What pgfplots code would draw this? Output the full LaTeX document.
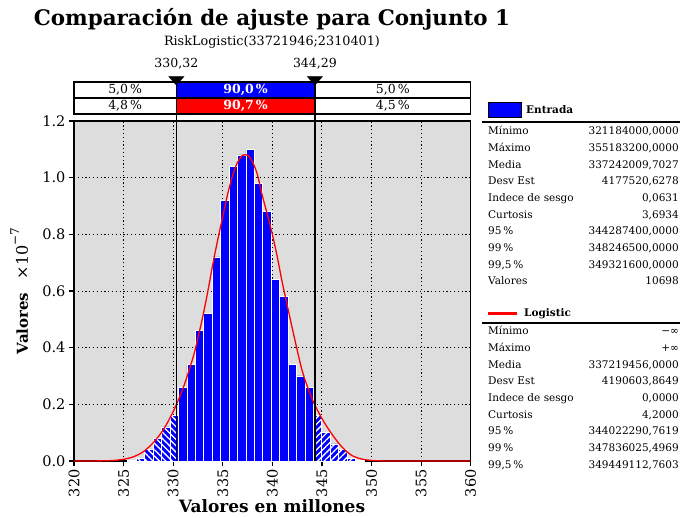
\documentclass[border=0pt]{standalone}
\usepackage{fontspec}
\setmainfont{DejaVu Serif}
\usepackage{pgfplots}
\pgfplotsset{compat=1.18}
\usetikzlibrary{patterns.meta}
\definecolor{bgray}{RGB}{221,221,221}
\newcommand{\fs}[1]{\fontsize{#1}{#1}\selectfont}
\newcommand{\statrow}[3]{%
  \node[anchor=base west, inner sep=0] at (414,#1) {\fs{10.5}#2};
  \node[anchor=base east, inner sep=0] at (605,#1) {\fs{10.5}#3};}

\begin{document}
\begin{tikzpicture}[x=1pt,y=1pt]
\useasboundingbox (-74,-57) rectangle (606,461);
\begin{axis}[
  at={(0,0)}, anchor=south west,
  scale only axis, width=396.7pt, height=340pt,
  xmin=320, xmax=360, ymin=0, ymax=1.2,
  clip=false,
  axis background/.style={fill=bgray},
  xtick={320,325,330,335,340,345,350,355,360},
  ytick={0,0.2,0.4,0.6,0.8,1.0,1.2},
  xtick pos=left, ytick pos=left,
  grid=major, grid style={black, dash pattern=on 1.2pt off 2.6pt, line width=0.9pt},
  tick align=outside, major tick length=5pt, tick style={black, line width=1.2pt},
  axis line style={line width=1.2pt},
  /pgf/number format/assume math mode=true,
  x tick label style={rotate=90, anchor=east, font=\fs{14.5}},
  y tick label style={font=\fs{14.5}},
  yticklabel style={/pgf/number format/.cd, fixed, fixed zerofill, precision=1},
]
% histogram, bins of width 0.85
\addplot[ybar interval, fill=blue, draw=white, line width=0.8pt] coordinates {
  (325.434,0.002)(326.284,0.008)(327.134,0.04)(327.984,0.08)(328.834,0.12)
  (329.684,0.16)(330.534,0.26)(331.384,0.34)(332.234,0.46)(333.084,0.52)
  (333.934,0.72)(334.784,0.92)(335.634,1.04)(336.484,1.08)(337.334,1.10)
  (338.184,0.98)(339.034,0.88)(339.884,0.64)(340.734,0.58)(341.584,0.34)
  (342.434,0.30)(343.284,0.26)(344.134,0.16)(344.984,0.10)(345.834,0.06)
  (346.684,0.04)(347.534,0.008)(348.384,0.002)(349.234,0)};
% tails
\addplot[ybar interval, draw=white, line width=0.8pt,
  pattern={Lines[angle=-45, distance=4.5pt, line width=1.3pt]}, pattern color=white] coordinates {
  (325.434,0.002)(326.284,0.008)(327.134,0.04)(327.984,0.08)(328.834,0.12)
  (329.684,0.16)(330.32,0)};
\addplot[ybar interval, draw=white, line width=0.8pt,
  pattern={Lines[angle=45, distance=4.5pt, line width=1.3pt]}, pattern color=white] coordinates {
  (344.29,0.16)(344.984,0.10)(345.834,0.06)(346.684,0.04)(347.534,0.008)
  (348.384,0.002)(349.234,0)};
% fitted logistic
\addplot[red, line width=1.3pt, smooth] coordinates {
  (320,0)(321,0)(322,0.0002)(323,0.0007)(324,0.002)(325,0.006)
  (326,0.015)(327,0.033)(328,0.065)(329,0.11)(330,0.1745)(331,0.2572)
  (332,0.3650)(332.5,0.4350)(333,0.5120)(333.5,0.6000)(334,0.6950)(334.5,0.7820)
  (335,0.8630)(335.5,0.9430)(336,1.0080)(336.5,1.0550)(337,1.0790)(337.3,1.0810)
  (337.6,1.0770)(338,1.0560)(338.5,1.0100)(339,0.9350)(339.5,0.8700)(340,0.8000)
  (340.5,0.7200)(341,0.6300)(341.5,0.5500)(342,0.4700)(343,0.3200)(344,0.2200)
  (345,0.1500)(346,0.0950)(347,0.0500)(348,0.0200)(349,0.0070)(350,0.0020)
  (351,0.0005)(352,0)(360,0)};
% percentile boxes
\fill[blue] (330.32,1.2813) rectangle (344.29,1.3378);
\fill[red] (330.32,1.2249) rectangle (344.29,1.2813);
\draw[black, line width=1.2pt] (320,1.2249) rectangle (360,1.3378);
\draw[black, line width=1.2pt] (320,1.2813) -- (360,1.2813);
\node[font=\fs{12.5}] at (325.16,1.3096) {5,0\,\%};
\node[font=\fs{12.5}] at (325.16,1.2531) {4,8\,\%};
\node[font=\fs{12.5}\bfseries, text=white] at (337.305,1.3096) {90,0\,\%};
\node[font=\fs{12.5}\bfseries, text=white] at (337.305,1.2531) {90,7\,\%};
\node[font=\fs{12.5}] at (352.145,1.3096) {5,0\,\%};
\node[font=\fs{12.5}] at (352.145,1.2531) {4,5\,\%};
% delimiters
\addplot[black, line width=1.3pt] coordinates {(330.32,0)(330.32,1.3378)};
\addplot[black, line width=1.3pt] coordinates {(344.29,0)(344.29,1.3378)};
\addplot[only marks, mark=triangle*, mark size=8.7pt,
  mark options={fill=black, draw=black, yscale=-0.65}] coordinates {(330.32,1.3466)(344.29,1.3466)};
\node[font=\fs{12.5}] at (330.32,1.4014) {330,32};
\node[font=\fs{12.5}] at (344.29,1.4014) {344,29};
\end{axis}
% titles and labels
\node[font=\fs{21.4}\bfseries] at (198,442) {Comparación de ajuste para Conjunto 1};
\node[font=\fs{12.8}] at (198,419) {RiskLogistic(33721946;2310401)};
\node[font=\fs{17}\bfseries, anchor=base] at (198,-52) {Valores en millones};
\node[rotate=90, anchor=base] at (-46,170) {\fs{15}\textbf{Valores}\hspace{0.9em}\fs{16}×10\raisebox{0.55em}{\fs{12}−7}};
% right panel: Entrada
\draw[black, line width=0.8pt, fill=blue] (414,344) rectangle (447,359);
\node[anchor=west, inner sep=0, font=\fs{10.5}\bfseries] at (452,351.5) {Entrada};
\draw[black, line width=1.2pt] (408,339) -- (606,339);
\statrow{326.2}{Mínimo}{321184000,0000}
\statrow{309.5}{Máximo}{355183200,0000}
\statrow{292.9}{Media}{337242009,7027}
\statrow{276.2}{Desv Est}{4177520,6278}
\statrow{259.5}{Indece de sesgo}{0,0631}
\statrow{242.9}{Curtosis}{3,6934}
\statrow{226.2}{95\,\%}{344287400,0000}
\statrow{209.5}{99\,\%}{348246500,0000}
\statrow{192.9}{99,5\,\%}{349321600,0000}
\statrow{176.2}{Valores}{10698}
% right panel: Logistic
\draw[red, line width=3pt] (414,147) -- (443,147);
\node[anchor=west, inner sep=0, font=\fs{10.5}\bfseries] at (450,147.5) {Logistic};
\draw[black, line width=1.2pt] (408,138) -- (606,138);
\statrow{126.2}{Mínimo}{−∞}
\statrow{109.5}{Máximo}{+∞}
\statrow{92.9}{Media}{337219456,0000}
\statrow{76.2}{Desv Est}{4190603,8649}
\statrow{59.5}{Indece de sesgo}{0,0000}
\statrow{42.9}{Curtosis}{4,2000}
\statrow{26.2}{95\,\%}{344022290,7619}
\statrow{9.5}{99\,\%}{347836025,4969}
\statrow{-7.1}{99,5\,\%}{349449112,7603}
\end{tikzpicture}
\end{document}
